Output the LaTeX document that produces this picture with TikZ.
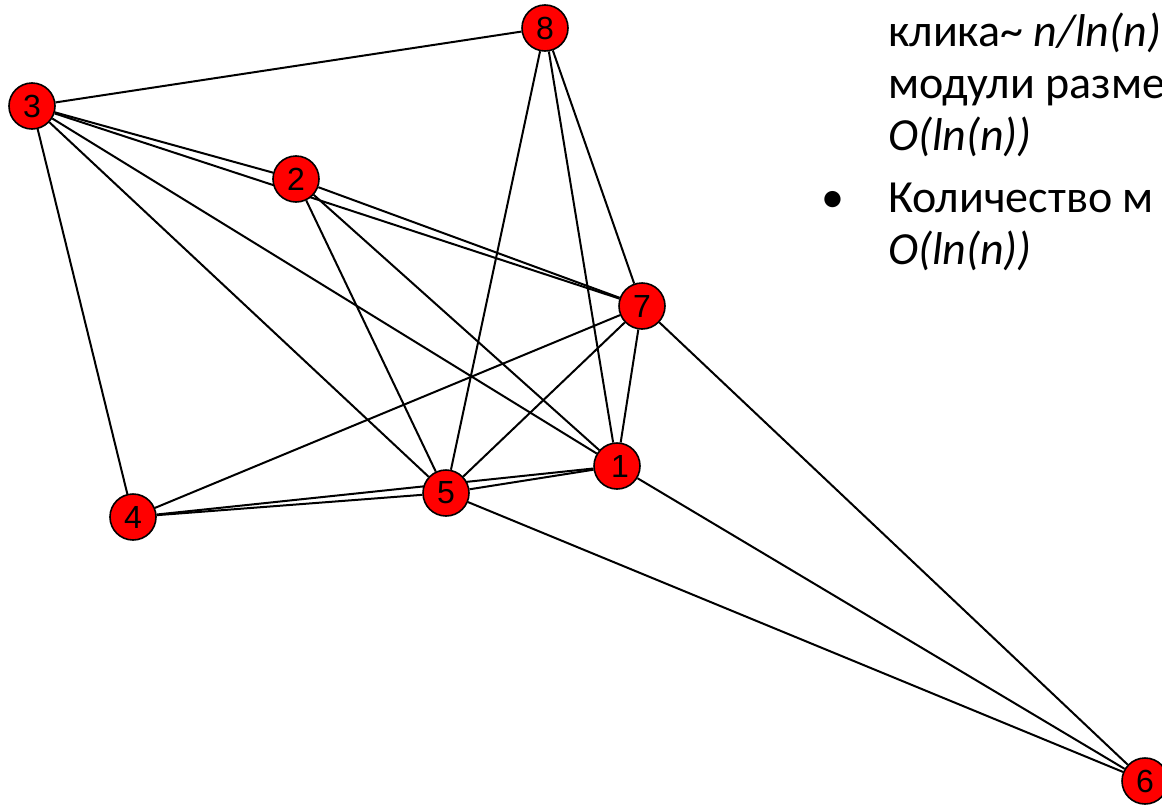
\documentclass[tikz,border=0pt]{standalone}
\usepackage{fontspec}
\setmainfont{Carlito}
\newfontfamily\nodefont{Liberation Sans}
\usetikzlibrary{backgrounds}
\tikzset{
  vtx/.style={circle, draw=black, line width=1.6pt, fill=red, minimum size=46pt, inner sep=0pt, font=\nodefont\fontsize{32}{32}\selectfont},
  edge/.style={draw=black, line width=2pt},
  txt/.style={anchor=base west, inner sep=0pt, font=\fontsize{46}{52}\selectfont}
}
\begin{document}
\begin{tikzpicture}[x=1pt,y=-1pt]
\useasboundingbox (0,0) rectangle (1162,806);
\clip (0,0) rectangle (1162,806);
\node[vtx] (n8) at (545,28) {8};
\node[vtx] (n3) at (32,106) {3};
\node[vtx] (n2) at (296,179) {2};
\node[vtx] (n7) at (642,306) {7};
\node[vtx] (n1) at (617,466) {\hspace{6pt}1};
\node[vtx] (n5) at (446,493) {5};
\node[vtx] (n4) at (133,517) {4};
\node[vtx] (n6) at (1145,781) {6};
\begin{pgfonlayer}{background}
\foreach \a/\b in {3/8,3/2,3/7,3/4,3/5,3/1,8/5,8/1,8/7,2/7,2/5,2/1,7/4,7/5,7/1,7/6,1/5,1/4,1/6,5/4,5/6}
  \draw[edge] (n\a) -- (n\b);
\end{pgfonlayer}
\node[txt] (t1) at (888,46) {клика\textasciitilde{} \textit{n/ln(n)}};
\node[txt] (t2) at (888,98) {модули разме};
\node[txt] (t3) at (888,150) {\textit{O(ln(n))}};
\node[txt, anchor=base] (b1) at (833,212) {\textbullet};
\node[txt] (t4) at (888,212) {Количество м};
\node[txt] (t5) at (888,264) {\textit{O(ln(n))}};
\end{tikzpicture}
\end{document}
